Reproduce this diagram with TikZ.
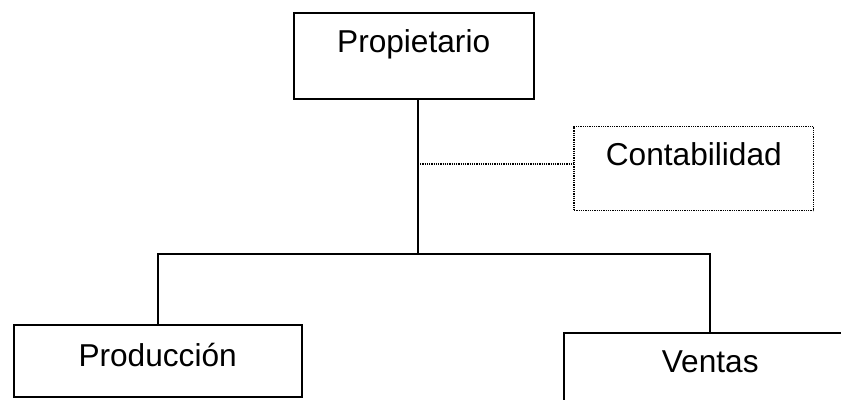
\documentclass[tikz,border=0pt]{standalone}
\usepackage{fontspec}
\setmainfont{Liberation Sans}
\usepackage{tikz}

\begin{document}
\begin{tikzpicture}[x=0.025cm,y=-0.025cm,line width=1.3pt]
\tikzstyle{deptbox}=[draw,inner sep=0pt,anchor=north west,font=\fontsize{22.5}{27}\selectfont]
\tikzstyle{staffbox}=[deptbox,line width=1pt,dash pattern=on 0.9pt off 0.7pt]
\tikzstyle{staffline}=[line width=0.9pt,dash pattern=on 0.9pt off 0.7pt]

%% Canvas
\clip (0,0) rectangle (841,400);

%% Owner on top
\node [deptbox,minimum width=6cm,text height=1cm,text depth=1.15cm] (prop) at (292.7,11.7) {Propietario};

%% Staff box, dotted
\node [staffbox,minimum width=5.99cm,text height=0.98cm,text depth=1.12cm] (cont) at (573.3,126) {Contabilidad};

%% Departments below
\node [deptbox,minimum width=7.2cm,text height=1.04cm,text depth=0.76cm] (prod) at (12.7,324.3) {Producción};
\node [deptbox,minimum width=7.3cm,text height=0.97cm,text depth=1.6cm] (vent) at (563.3,332.3) {Ventas};

%% Connectors
\coordinate (hub) at (417.7,254);
\coordinate (tap) at (420,164);
\draw (prop.south -| hub) -- (hub);
\draw (prod.north) |- (hub) -| (vent.north);
\draw [staffline] (tap) -- (tap -| cont.west);
\end{tikzpicture}
\end{document}
